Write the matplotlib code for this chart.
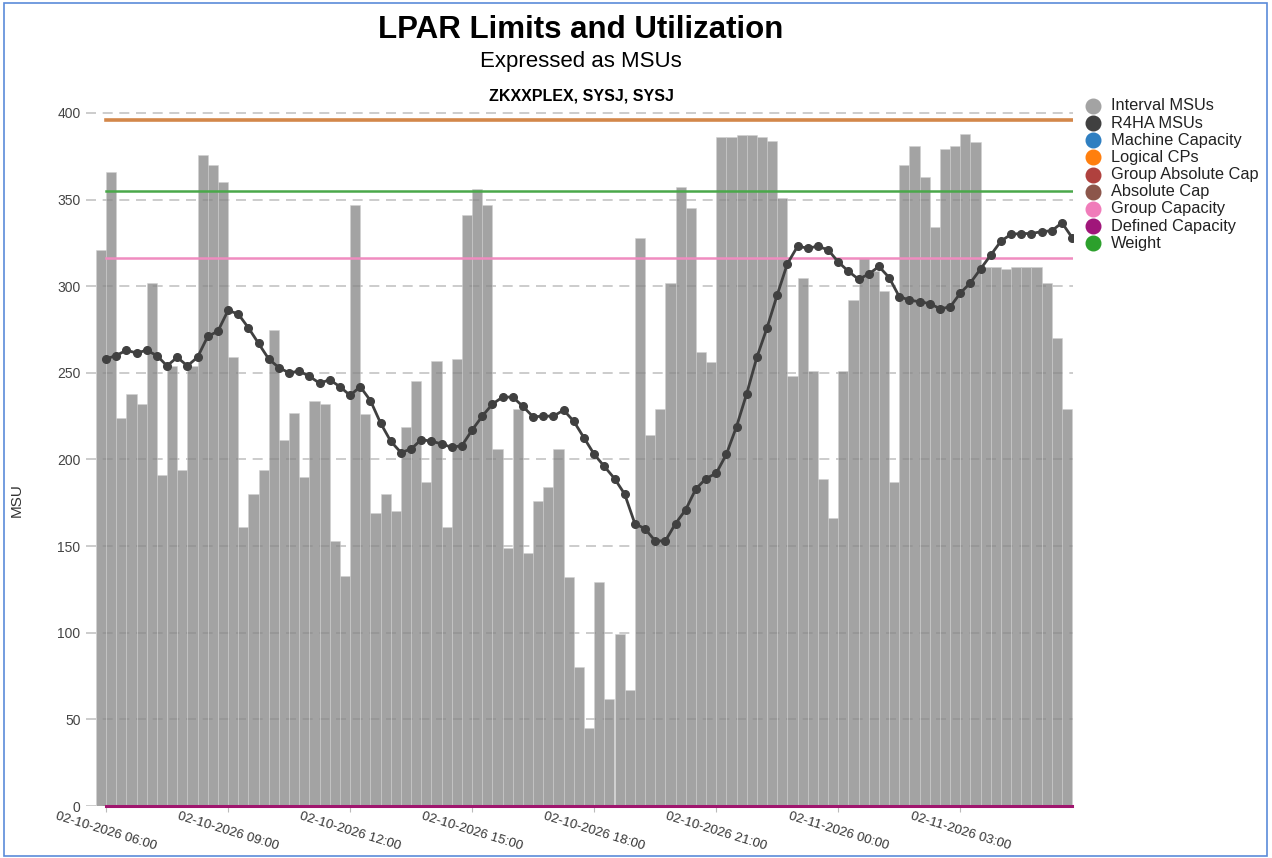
import matplotlib
matplotlib.use('Agg')
import matplotlib.pyplot as plt
import matplotlib.dates as mdates
from matplotlib.lines import Line2D
from matplotlib.patches import Rectangle
import pandas as pd

plt.rcParams['font.family'] = ['Liberation Sans', 'DejaVu Sans']

# 15-minute intervals, 02-10-2026 06:00 .. 02-11-2026 05:45
times = pd.date_range('2026-02-10 06:00', periods=96, freq='15min')

interval_msus = [
    321, 366, 224, 238, 232, 302, 191, 254, 194, 254, 376, 370,
    360, 259, 161, 180, 194, 275, 211, 227, 190, 234, 232, 153,
    133, 347, 226, 169, 180, 170, 219, 245, 187, 257, 161, 258,
    341, 356, 347, 206, 149, 229, 146, 176, 184, 206, 132, 80,
    45, 129, 62, 99, 67, 328, 214, 229, 302, 357, 345, 262,
    256, 386, 386, 387, 387, 386, 384, 351, 248, 305, 251, 189,
    166, 251, 292, 316, 309, 297, 187, 370, 381, 363, 334, 379,
    381, 388, 383, 311, 311, 310, 311, 311, 311, 302, 270, 229,
]

r4ha_msus = [
    258, 260, 263, 261.5, 263, 260, 254, 259, 254, 259, 271, 274,
    286, 284, 276, 267, 258, 253, 250, 251, 248, 244, 246, 242,
    237, 242, 234, 221, 210.5, 204, 206, 211.5, 210.5, 209, 207, 208,
    217, 225, 232, 236, 236, 230.6, 224.6, 225, 225, 228.5, 222, 212.5,
    203, 196, 189, 180, 163, 160, 153, 153, 163, 171, 183, 189,
    192, 203, 219, 238, 259, 276, 295, 313, 323, 322, 323, 321,
    314, 308.6, 304, 307, 311.4, 305, 294, 292, 291, 290, 287, 288,
    296, 302, 310, 318, 326, 330, 330.4, 330.4, 331.5, 332, 336.6, 328,
]

# constant limits
logical_cps = 396
weight = 355
group_capacity = 316
defined_capacity = 0

legend_labels = ['Interval MSUs', 'R4HA MSUs', 'Machine Capacity', 'Logical CPs',
                 'Group Absolute Cap', 'Absolute Cap', 'Group Capacity',
                 'Defined Capacity', 'Weight']
legend_colors = ['#a3a3a3', '#404040', '#2f7fc1', '#ff7f0e', '#b0413e',
                 '#8c564b', '#f07cba', '#a0167a', '#2ca02c']

W, H = 1272, 858
fig = plt.figure(figsize=(W / 100, H / 100), dpi=100)

left_px, right_px = 86, 1073
bottom_px, top_px = 806, 106
ax = fig.add_axes([left_px / W, (H - bottom_px) / H,
                   (right_px - left_px) / W, (bottom_px - top_px) / H])

x = mdates.date2num(times)
step = 15 / 1440.0

ax.bar(x - step, interval_msus, width=step, align='edge',
       color='#858585', alpha=0.75, edgecolor='#d0d0d0', linewidth=0.5, zorder=2)

t0, t1 = x[0], x[-1]
ax.plot([t0, t1], [logical_cps] * 2, color='#d3874a', lw=2.6, zorder=4)
ax.plot([t0, t1], [weight] * 2, color='#4aa84a', lw=1.8, zorder=4)
ax.plot([t0, t1], [group_capacity] * 2, color='#f08cc0', lw=1.8, zorder=4)
ax.plot([t0, t1], [defined_capacity] * 2, color='#a0166e', lw=2.2, zorder=5,
        clip_on=False)

ax.plot(x, r4ha_msus, color='#404040', lw=2, marker='o', ms=5.5, zorder=6)

ax.set_xlim(t0 + (left_px - 106) / 10.17 * step, t0 + (right_px - 106) / 10.17 * step)
ax.set_ylim(0, 404)
ax.set_yticks(range(0, 401, 50))
ax.yaxis.grid(True, color='#c4c4c4', linestyle=(0, (6, 4)), lw=1.2, zorder=1)
ax.set_axisbelow(True)
for s in ax.spines.values():
    s.set_visible(False)

ax.xaxis.set_major_locator(mdates.HourLocator(byhour=range(0, 24, 3)))
ax.xaxis.set_major_formatter(mdates.DateFormatter('%m-%d-%Y %H:%M'))
ax.tick_params(axis='x', length=4, color='#bbbbbb', pad=14, labelsize=9.5,
               labelcolor='#333333')
ax.tick_params(axis='y', length=0, pad=4, labelsize=10, labelcolor='#444444')
for lbl in ax.get_xticklabels():
    lbl.set_rotation(-17)
    lbl.set_ha('center')
    lbl.set_va('center')
    lbl.set_rotation_mode('anchor')

# y axis title
fig.text(17 / W, 1 - 500 / H, 'MSU', rotation=90, ha='center', va='center',
         fontsize=11, color='#333333')

# titles
fig.text(581 / W, 1 - 30 / H, 'LPAR Limits and Utilization', ha='center', va='center',
         fontsize=22.5, fontweight='bold')
fig.text(581 / W, 1 - 62 / H, 'Expressed as MSUs', ha='center', va='center',
         fontsize=16)
fig.text(581 / W, 1 - 96 / H, 'ZKXXPLEX, SYSJ, SYSJ', ha='center', va='center',
         fontsize=11.5, fontweight='bold')

# legend
for i, (lab, col) in enumerate(zip(legend_labels, legend_colors)):
    yy = 1 - (106 + i * 17.15) / H
    fig.add_artist(Line2D([1093 / W], [yy], marker='o', ms=10.5, color=col,
                          lw=0, transform=fig.transFigure))
    fig.text(1111 / W, yy, lab, ha='left', va='center', fontsize=11.8, color='#222222')

# screenshot frame
fig.add_artist(Rectangle((4 / W, 2 / H), 1 - 9 / W, 1 - 5 / H, fill=False,
                         edgecolor='#5b8bd9', lw=1.2, transform=fig.transFigure))

fig.savefig('out.png', dpi=100)
